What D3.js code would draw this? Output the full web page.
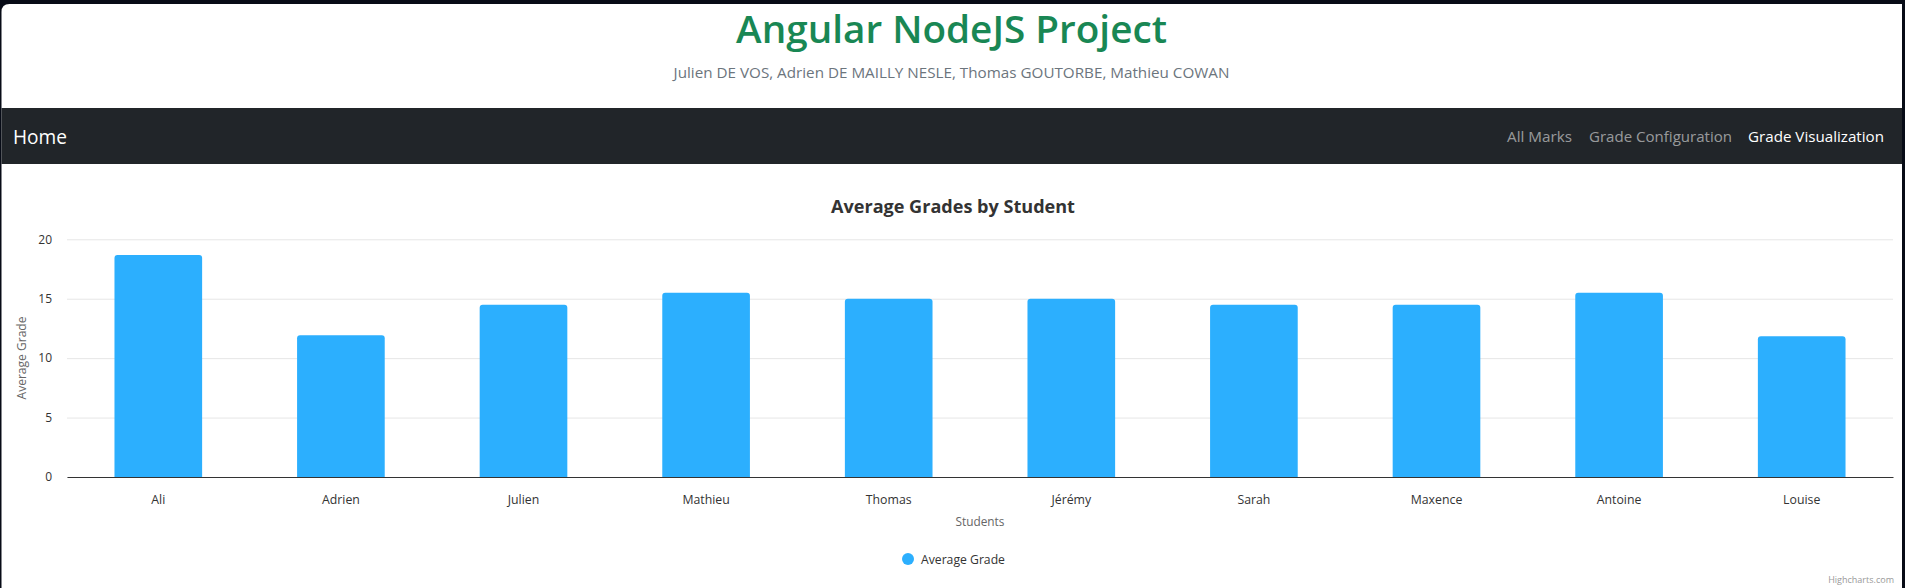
<!DOCTYPE html>
<html>
<head>
<meta charset="utf-8">
<script src="https://cdn.jsdelivr.net/npm/d3@7"></script>
<style>
  html, body { margin: 0; padding: 0; background: #070b16; overflow: hidden; }
  svg { display: block; font-family: "Open Sans", "Noto Sans", sans-serif; }
</style>
</head>
<body>
<svg id="page" width="1905" height="588"></svg>
<script>
// ---- data ----
const categories = ["Ali", "Adrien", "Julien", "Mathieu", "Thomas", "Jérémy", "Sarah", "Maxence", "Antoine", "Louise"];
const averageGrades = [18.67, 11.93, 14.5, 15.5, 15, 15, 14.5, 14.5, 15.5, 11.85];
const yTicks = [0, 5, 10, 15, 20];
const navLinks = ["All Marks", "Grade Configuration", "Grade Visualization"];
const seriesName = "Average Grade";

const svg = d3.select("#page");

// fit a text's font size so that its rendered width matches target
function fit(sel, target) {
  const node = sel.node();
  const fs = parseFloat(sel.attr("font-size"));
  const w = node.getComputedTextLength();
  if (w > 0) sel.attr("font-size", (fs * target / w).toFixed(2));
  return sel;
}

// ---- page frame ----
svg.append("rect").attr("x", 0).attr("y", 0).attr("width", 1905).attr("height", 588).attr("fill", "#070b16");
svg.append("path")
  .attr("d", "M1.5,12 Q1.5,4 9.5,4 L1902,4 L1902,600 L1.5,600 Z")
  .attr("fill", "#ffffff");

// header
fit(svg.append("text").attr("x", 951.5).attr("y", 43).attr("text-anchor", "middle")
  .attr("font-size", 40).attr("fill", "#198754").attr("font-weight", 600)
  .text("Angular NodeJS Project"), 431);
fit(svg.append("text").attr("x", 951.5).attr("y", 78).attr("text-anchor", "middle")
  .attr("font-size", 16).attr("fill", "#6c757d")
  .text("Julien DE VOS, Adrien DE MAILLY NESLE, Thomas GOUTORBE, Mathieu COWAN"), 556);

// navbar
svg.append("rect").attr("x", 1.5).attr("y", 108).attr("width", 1900.5).attr("height", 56).attr("fill", "#212529");
fit(svg.append("text").attr("x", 13).attr("y", 144).attr("font-size", 20).attr("fill", "#ffffff").text("Home"), 54);
const navPos = [[1507, 65], [1589, 143], [1748, 136]];
navLinks.forEach((t, i) => {
  fit(svg.append("text").attr("x", navPos[i][0]).attr("y", 142).attr("font-size", 16)
    .attr("fill", i === 2 ? "#ffffff" : "rgba(255,255,255,0.55)").text(t), navPos[i][1]);
});

// ---- chart ----
const plot = { left: 67, right: 1893, top: 239.3, bottom: 477 };
const x = d3.scaleBand().domain(categories).range([plot.left, plot.right]).padding(0);
const y = d3.scaleLinear().domain([0, 20]).range([plot.bottom, plot.top]);

fit(svg.append("text").attr("x", 953).attr("y", 212.5).attr("text-anchor", "middle")
  .attr("font-size", 18).attr("font-weight", 700).attr("fill", "#333333")
  .text("Average Grades by Student"), 244);

// y axis with gridlines
const yAxis = svg.append("g").attr("transform", `translate(${plot.left},0)`)
  .call(d3.axisLeft(y).tickValues(yTicks).tickSize(-(plot.right - plot.left)).tickPadding(15));
yAxis.select(".domain").remove();
yAxis.selectAll(".tick line").attr("stroke", "#e6e6e6");
yAxis.selectAll(".tick text").attr("font-size", 12).attr("fill", "#333333")
  .attr("font-family", "'Open Sans', sans-serif");

// bars with rounded top corners
const barW = x.bandwidth() * 0.48;
const r = 3;
svg.append("g").selectAll("path").data(averageGrades).join("path")
  .attr("fill", "#2caffe")
  .attr("d", (v, i) => {
    const cx = x(categories[i]) + x.bandwidth() / 2;
    const x0 = cx - barW / 2, x1 = cx + barW / 2;
    const y0 = y(v), yb = y(0);
    const p = d3.path();
    p.moveTo(x0, yb);
    p.lineTo(x0, y0 + r);
    p.quadraticCurveTo(x0, y0, x0 + r, y0);
    p.lineTo(x1 - r, y0);
    p.quadraticCurveTo(x1, y0, x1, y0 + r);
    p.lineTo(x1, yb);
    p.closePath();
    return p.toString();
  });

// x axis
const xAxis = svg.append("g").attr("transform", `translate(0,${plot.bottom})`)
  .call(d3.axisBottom(x).tickSize(0).tickPadding(18));
xAxis.select(".domain").attr("stroke", "#333333").attr("stroke-width", 1);
xAxis.selectAll(".tick text").attr("font-size", 12.3).attr("fill", "#333333")
  .attr("font-family", "'Open Sans', sans-serif");

// axis titles
fit(svg.append("text").attr("x", (plot.left + plot.right) / 2).attr("y", 526).attr("text-anchor", "middle")
  .attr("font-size", 12).attr("fill", "#666666").text("Students"), 49);
fit(svg.append("text").attr("transform", "translate(26,358) rotate(-90)").attr("text-anchor", "middle")
  .attr("font-size", 12).attr("fill", "#666666").text("Average Grade"), 83);

// legend
svg.append("circle").attr("cx", 908).attr("cy", 559).attr("r", 6).attr("fill", "#2caffe");
fit(svg.append("text").attr("x", 921).attr("y", 563.5).attr("font-size", 12).attr("fill", "#333333")
  .text(seriesName), 84);

// credits
fit(svg.append("text").attr("x", 1894).attr("y", 582.5).attr("text-anchor", "end")
  .attr("font-size", 9).attr("fill", "#999999").text("Highcharts.com"), 66);
</script>
</body>
</html>
